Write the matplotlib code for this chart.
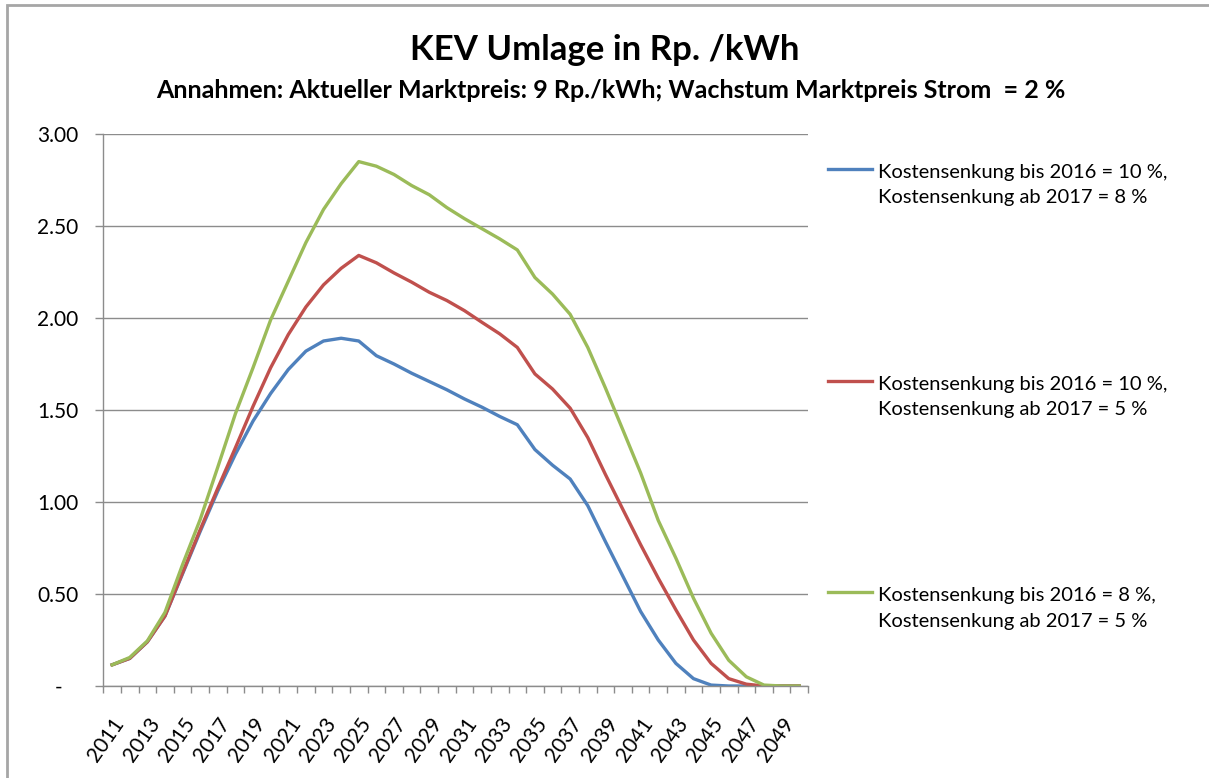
import matplotlib
matplotlib.use("Agg")
import matplotlib.pyplot as plt
import numpy as np
from matplotlib.legend_handler import HandlerLine2D
from matplotlib.lines import Line2D
from matplotlib.patches import Rectangle

years = list(range(2011, 2051))

# Kostensenkung bis 2016 = 10 %, ab 2017 = 8 %
blue = [0.115, 0.15, 0.24, 0.38, 0.61, 0.84, 1.06, 1.26, 1.44, 1.59,
        1.72, 1.82, 1.875, 1.89, 1.875, 1.795, 1.75, 1.70, 1.655, 1.61,
        1.56, 1.515, 1.465, 1.42, 1.285, 1.20, 1.125, 0.98, 0.785, 0.595,
        0.405, 0.25, 0.123, 0.04, 0.005, 0, 0, 0, 0, 0]
# Kostensenkung bis 2016 = 10 %, ab 2017 = 5 %
red = [0.115, 0.15, 0.24, 0.38, 0.615, 0.85, 1.075, 1.295, 1.52, 1.73,
       1.91, 2.06, 2.18, 2.27, 2.34, 2.30, 2.245, 2.195, 2.14, 2.095,
       2.04, 1.976, 1.914, 1.84, 1.696, 1.614, 1.51, 1.35, 1.15, 0.958,
       0.768, 0.586, 0.414, 0.25, 0.123, 0.04, 0.01, 0, 0, 0]
# Kostensenkung bis 2016 = 8 %, ab 2017 = 5 %
green = [0.115, 0.155, 0.245, 0.40, 0.66, 0.905, 1.19, 1.48, 1.73, 1.99,
         2.20, 2.41, 2.59, 2.73, 2.85, 2.825, 2.78, 2.72, 2.67, 2.60,
         2.54, 2.485, 2.43, 2.37, 2.22, 2.13, 2.02, 1.84, 1.62, 1.39,
         1.158, 0.90, 0.695, 0.477, 0.287, 0.14, 0.05, 0.005, 0, 0]

labels = ["Kostensenkung bis 2016 = 10 %,\nKostensenkung ab 2017 = 8 %",
          "Kostensenkung bis 2016 = 10 %,\nKostensenkung ab 2017 = 5 %",
          "Kostensenkung bis 2016 = 8 %,\nKostensenkung ab 2017 = 5 %"]
colors = ["#4F81BD", "#C0504D", "#9BBB59"]
yticks = [0, 0.5, 1.0, 1.5, 2.0, 2.5, 3.0]
ytick_labels = ["-   ", "0.50", "1.00", "1.50", "2.00", "2.50", "3.00"]

plt.rcParams['font.family'] = ['Lato', 'DejaVu Sans']


class FirstLineHandler(HandlerLine2D):
    # put the legend line next to the first text line, like Excel does
    def create_artists(self, legend, orig_handle, xdescent, ydescent,
                       width, height, fontsize, trans):
        arts = super().create_artists(legend, orig_handle, xdescent, ydescent,
                                      width, height, fontsize, trans)
        for a in arts:
            if isinstance(a, Line2D):
                a.set_ydata(np.asarray(a.get_ydata()) + 0.80 * fontsize)
        return arts


W, H = 1209, 778
fig = plt.figure(figsize=(W / 100, H / 100), dpi=100)
ax = fig.add_axes([103.3 / W, 1 - 686 / H, (808 - 103.3) / W, (686 - 134) / H])

x = np.arange(len(years))
for vals, c, lab in zip([blue, red, green], colors, labels):
    ax.plot(x, vals, color=c, lw=2.4, label=lab, solid_joinstyle='round')

ax.set_xlim(-0.5, len(years) - 0.5)
ax.set_ylim(0, 3)
ax.set_yticks(yticks)
ax.set_yticklabels(ytick_labels)
ax.yaxis.grid(True, color='#8c8c8c', lw=1.0)
ax.set_axisbelow(True)

ax.set_xticks(np.arange(-0.5, len(years)))
ax.set_xticklabels([])
ax.set_xticks(x[::2], minor=True)
ax.set_xticklabels([str(y) for y in years[::2]], minor=True, rotation=55,
                   ha='right', va='top', rotation_mode='anchor')
ax.tick_params(axis='x', which='major', length=5, color='#8c8c8c', width=1)
ax.tick_params(axis='x', which='minor', length=0, pad=20, labelsize=15)
ax.tick_params(axis='y', length=6, color='#8c8c8c', width=1, pad=12, labelsize=15)

for s in ['top', 'right']:
    ax.spines[s].set_visible(False)
for s in ['left', 'bottom']:
    ax.spines[s].set_color('#8c8c8c')
    ax.spines[s].set_linewidth(1.0)

fig.text(0.5, 1 - 50 / H, "KEV Umlage in Rp. /kWh", ha='center', va='center',
         fontsize=25, fontweight='bold')
fig.text(0.505, 1 - 90 / H,
         "Annahmen: Aktueller Marktpreis: 9 Rp./kWh; Wachstum Marktpreis Strom  = 2 %",
         ha='center', va='center', fontsize=18, fontweight='bold')

leg = ax.legend(loc='upper left', bbox_to_anchor=(828 / W, 1 - 164 / H),
                bbox_transform=fig.transFigure, frameon=False, fontsize=14.5,
                handlelength=2.2, handletextpad=0.3, borderpad=0,
                borderaxespad=0, labelspacing=8.4,
                handler_map={Line2D: FirstLineHandler()})
for t in leg.get_texts():
    t.set_linespacing(1.6)

fig.patches.append(Rectangle((7 / W, -0.05), 1.2, 1 - 5 / H + 0.05,
                             transform=fig.transFigure, fill=False,
                             edgecolor='#a6a6a6', lw=2))

fig.savefig("out.png", dpi=100, facecolor='white')
